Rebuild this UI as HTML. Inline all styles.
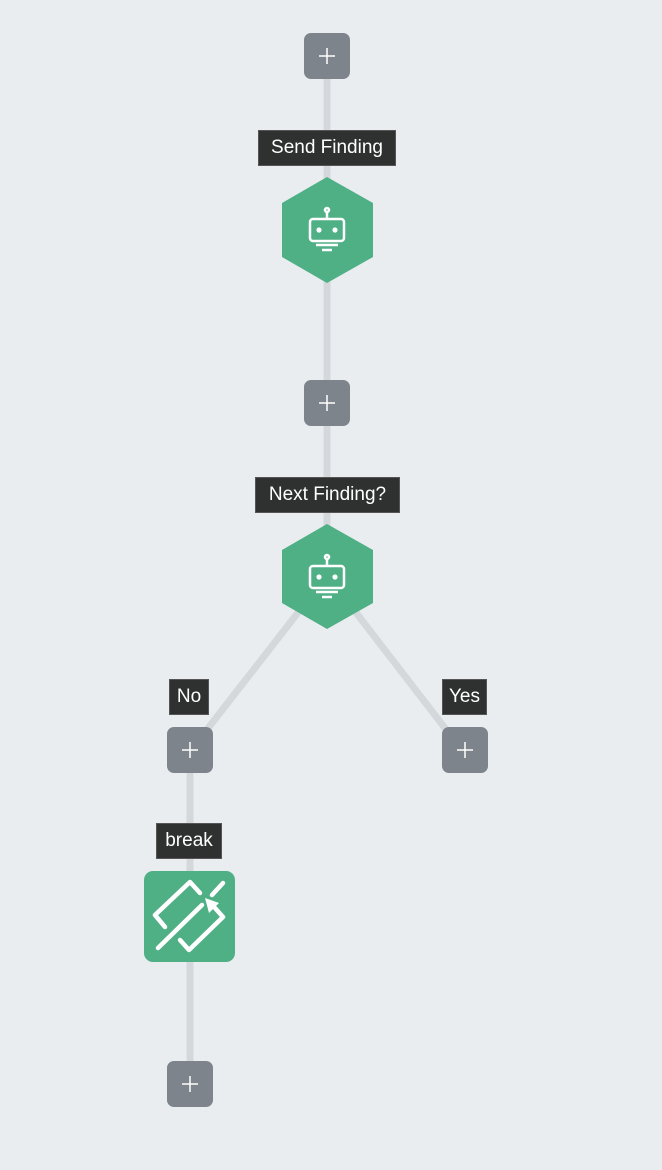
<!DOCTYPE html>
<html><head><style>
body{margin:0;width:662px;height:1170px;background:#e9edf0;overflow:hidden;position:relative;font-family:"Liberation Sans",sans-serif}
.p{position:absolute;width:46px;height:46px;background:#7d848c;border-radius:7px}
.l{position:absolute;background:#2f3131;color:#fff;font-size:19px;line-height:34px;text-align:center;border:1px solid #555}
</style></head><body>
<svg width="662" height="1170" style="position:absolute;left:0;top:0">
<g stroke="#d5d8db" stroke-width="7" fill="none">
<line x1="327" y1="60" x2="327" y2="420"/>
<line x1="327" y1="420" x2="327" y2="580"/>
<line x1="300" y1="610" x2="195" y2="745"/>
<line x1="354" y1="610" x2="458" y2="745"/>
<line x1="190" y1="750" x2="190" y2="1090"/>
</g>
<polygon points="327,177 373,203 373,257 327,283 282,257 282,203" fill="#4faf85"/>
<polygon points="327,524 373,550 373,603 327,629 282,603 282,550" fill="#4faf85"/>
<g id="bot" fill="none" stroke="#fff" stroke-width="2.5">
<rect x="310" y="219" width="34" height="22" rx="3"/>
<line x1="327" y1="212" x2="327" y2="219"/>
<circle cx="327" cy="210" r="2"/>
<line x1="316" y1="245" x2="338" y2="245"/>
<line x1="322" y1="250" x2="332" y2="250"/>
</g>
<g fill="#fff"><circle cx="319" cy="230" r="2.6"/><circle cx="335" cy="230" r="2.6"/>
<circle cx="319" cy="577" r="2.6"/><circle cx="335" cy="577" r="2.6"/></g>
<use href="#bot" transform="translate(0,347)"/>
<rect x="144" y="871" width="91" height="91" rx="9" fill="#4faf85"/>
<g stroke="#fff" stroke-width="4.5" fill="none" stroke-linecap="round" stroke-linejoin="round">
<polyline points="200,893 190,882 155,915 165,927"/>
<line x1="158" y1="948" x2="202" y2="905"/>
<line x1="212" y1="895" x2="223" y2="883"/>
<polyline points="180,940 189,950 223,917 215,908"/>
</g>
<polygon points="205,898 219,903 209,913" fill="#fff"/>
</svg>
<div class="p" style="left:304px;top:33px"></div>
<div class="p" style="left:304px;top:380px"></div>
<div class="p" style="left:167px;top:727px"></div>
<div class="p" style="left:442px;top:727px"></div>
<div class="p" style="left:167px;top:1061px"></div>
<svg width="662" height="1170" style="position:absolute;left:0;top:0" stroke="#fff" stroke-width="1.5">
<g id="pl"><line x1="319" y1="56" x2="335" y2="56"/><line x1="327" y1="48" x2="327" y2="64"/></g>
<use href="#pl" transform="translate(0,347)"/>
<use href="#pl" transform="translate(-137,694)"/>
<use href="#pl" transform="translate(138,694)"/>
<use href="#pl" transform="translate(-137,1028)"/>
</svg>
<div class="l" style="left:258px;top:130px;width:136px">Send Finding</div>
<div class="l" style="left:255px;top:477px;width:143px">Next Finding?</div>
<div class="l" style="left:169px;top:679px;width:38px">No</div>
<div class="l" style="left:442px;top:679px;width:43px">Yes</div>
<div class="l" style="left:156px;top:823px;width:64px">break</div>
</body></html>
